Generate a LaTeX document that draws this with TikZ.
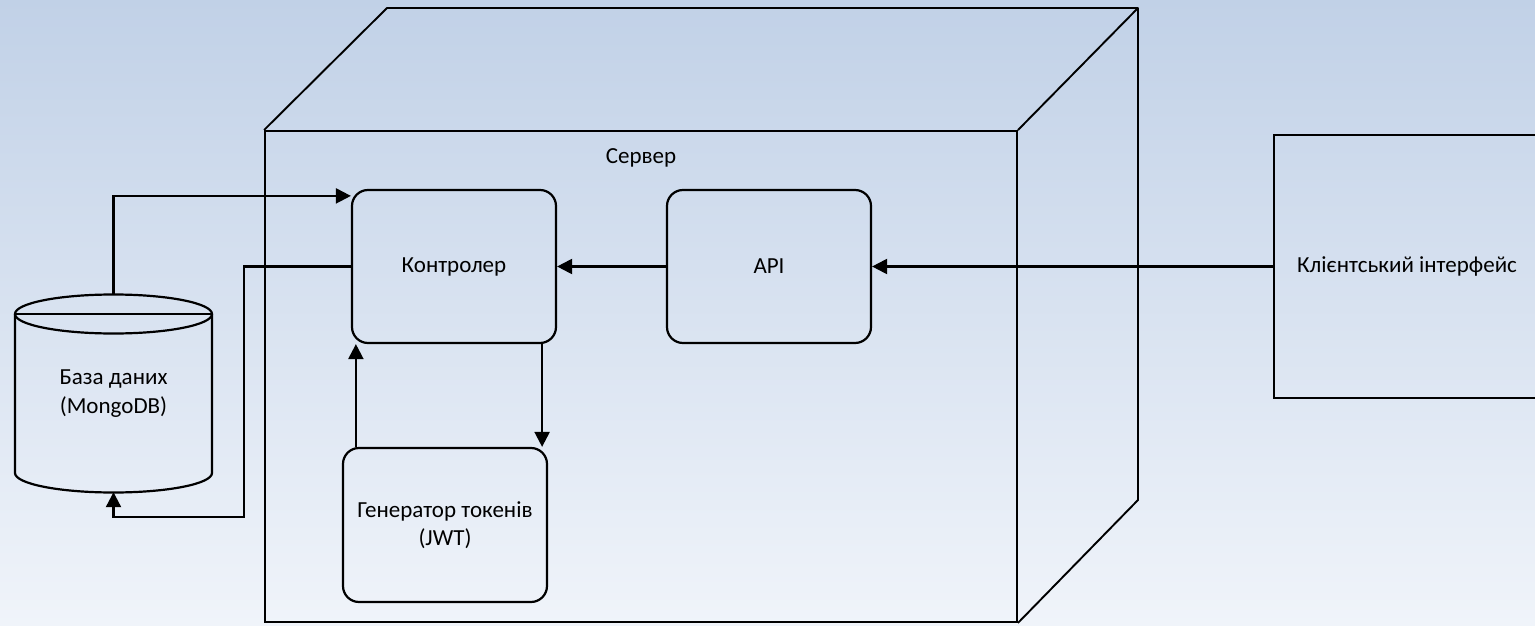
\documentclass[tikz,border=0pt]{standalone}
\usepackage{fontspec}
\setmainfont{Carlito}
\usetikzlibrary{arrows.meta,calc}
\definecolor{bgtop}{RGB}{193,209,231}
\definecolor{bgbot}{RGB}{240,244,250}
\begin{document}
\begin{tikzpicture}[x=1pt,y=-1pt,
  txt/.style={font=\fontsize{23}{28.5}\selectfont, align=center, inner sep=0pt},
  box/.style={txt, draw, line width=2.2pt, rounded corners=16pt, minimum width=204pt, minimum height=153pt},
  plainbox/.style={txt, draw, line width=2.2pt},
  arr/.style={line width=2.2pt, -{Triangle[length=15pt,width=15pt]}},
  edgeline/.style={line width=1.9pt}]
\clip (0,0) rectangle (1535,626);
\shade[top color=bgtop, bottom color=bgbot] (0,0) rectangle (1535,626);

% server cube
\node[txt, draw, edgeline, minimum width=752pt, minimum height=491pt] (srv) at (641,376.5) {};
\node[txt] (srvlabel) at (641,158) {Сервер};
\coordinate (bl) at (387,8);
\coordinate (br) at (1138,8);
\coordinate (bb) at (1138,500);
\draw[edgeline, line join=round] (srv.north west) -- (bl) -- (br) -- (bb) -- (srv.south east);
\draw[edgeline] (srv.north east) -- (br);

% nodes
\node[box] (ctrl) at (454,266.5) {Контролер};
\node[box] (api) at (769,266.5) {API};
\node[box, minimum height=154pt] (gen) at (445,525) {Генератор токенів\\(JWT)};
\node[plainbox, minimum width=266pt, minimum height=263pt] (cli) at (1407,266.5) {Клієнтський інтерфейс};

% database cylinder
\node[txt, minimum width=197pt, minimum height=197pt] (db) at (113.5,393.5) {База даних\\(MongoDB)};
\draw[line width=2.2pt] (113.5,314) ellipse [x radius=98.5, y radius=19.5];
\draw[line width=2.2pt] (15,314) -- (212,314);
\draw[line width=2.2pt] (15,314) -- (15,473) arc[start angle=180, end angle=0, x radius=98.5, y radius=19.5] -- (212,314);

% connectors
\draw[arr] (cli.west) -- (api.east);
\draw[arr] (api.west) -- (ctrl.east);
\draw[arr] (db.north) |- ([yshift=-7pt]ctrl.north west);
\coordinate (dbret) at ([yshift=-25pt]db.south);
\draw[arr] (ctrl.west) -- ++(-107,0) |- (dbret) -- (db.south);
\coordinate (c1) at ([xshift=-15pt]ctrl.south east);
\draw[arr] (c1) -- (c1 |- gen.north);
\coordinate (g1) at ([xshift=14pt]gen.north west);
\draw[arr] (g1) -- (g1 |- ctrl.south);
\end{tikzpicture}
\end{document}
